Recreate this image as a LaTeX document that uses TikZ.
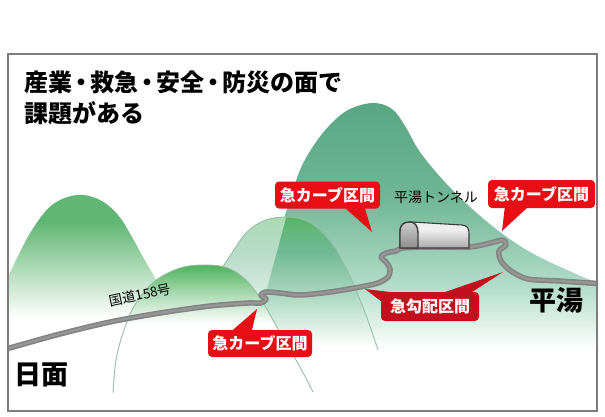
\documentclass[tikz,border=0pt]{standalone}
\usepackage{fontspec}
\newfontfamily\jp{Noto Sans CJK JP}
\usetikzlibrary{calc}

% palette
\definecolor{framegray}{RGB}{125,125,125}
\definecolor{roadgray}{RGB}{132,132,132}
\definecolor{roadlight}{RGB}{150,150,150}
\definecolor{calloutred}{RGB}{232,14,22}
\definecolor{calloutdark}{RGB}{196,16,30}
\definecolor{ridgeline}{RGB}{150,192,165}
\definecolor{tealA}{RGB}{88,166,132}
\definecolor{tealB}{RGB}{112,182,150}
\definecolor{tealC}{RGB}{178,221,202}
\definecolor{leafA}{RGB}{96,182,116}
\definecolor{leafB}{RGB}{165,214,175}
\definecolor{frontA}{RGB}{78,178,92}
\definecolor{frontB}{RGB}{160,214,168}
\definecolor{tallA}{RGB}{88,182,102}
\definecolor{tallB}{RGB}{112,184,148}
\definecolor{tallC}{RGB}{180,220,200}
\definecolor{tunnelA}{RGB}{238,238,238}
\definecolor{tunnelB}{RGB}{170,170,170}
\definecolor{portalA}{RGB}{205,205,205}
\definecolor{portalB}{RGB}{140,140,140}
\definecolor{tunneledge}{RGB}{60,60,60}

% vertical shadings: the path's box spans 25bp (bottom) to 75bp (top)
\pgfdeclareverticalshading{bigmount}{100bp}{color(0bp)=(white); color(28bp)=(white); color(40bp)=(tealC); color(57bp)=(tealB); color(75bp)=(tealA); color(100bp)=(tealA)}
\pgfdeclareverticalshading{leftmount}{100bp}{color(0bp)=(white); color(34bp)=(white); color(52bp)=(leafB); color(66bp)=(leafA); color(100bp)=(leafA)}
\pgfdeclareverticalshading{frontmount}{100bp}{color(0bp)=(white); color(52bp)=(white); color(65bp)=(frontB); color(75bp)=(frontA); color(100bp)=(frontA)}
\pgfdeclareverticalshading{tallmount}{100bp}{color(0bp)=(white); color(33bp)=(white); color(48bp)=(tallC); color(64bp)=(tallB); color(75bp)=(tallA); color(100bp)=(tallA)}
\pgfdeclareverticalshading{tunnelbody}{100bp}{color(0bp)=(tunnelB); color(25bp)=(tunnelB); color(60bp)=(tunnelA); color(75bp)=(tunnelA); color(100bp)=(tunnelA)}
\pgfdeclareverticalshading{tunnelface}{100bp}{color(0bp)=(portalB); color(25bp)=(portalB); color(75bp)=(portalA); color(100bp)=(portalA)}

\tikzset{
  callout/.style={rounded corners=4pt, inner sep=0pt, minimum height=27pt,
    text=white, font=\jp\bfseries\fontsize{16}{16}\selectfont},
  heading/.style={anchor=base west, inner sep=0pt, font=\jp\bfseries\fontsize{24}{24}\selectfont},
  placename/.style={inner sep=0pt, font=\jp\bfseries\fontsize{27}{27}\selectfont},
  smalllabel/.style={inner sep=0pt, font=\jp\fontsize{14}{14}\selectfont},
  road/.style={line width=5.5pt, roadgray, line cap=round, line join=round},
  roadcore/.style={line width=2.2pt, roadlight, line cap=round, line join=round},
  ridge/.style={ridgeline, line width=0.9pt}
}

\begin{document}
\begin{tikzpicture}[x=1pt, y=-1pt]
\useasboundingbox (0,0) rectangle (605,416);
\fill[white] (0,0) rectangle (605,416);

\begin{scope}
  \clip (8,54) rectangle (597,411);

  % back mountain
  \shade[shading=bigmount] plot[smooth, tension=0.6] coordinates {
    (268,365) (272,300) (280,235) (290,200) (300,170) (312,148) (328,127)
    (348,110) (373,103) (392,109) (405,126) (420,152) (443,180) (470,207)
    (500,232) (530,252) (565,269) (600,283) (640,290)} -- (640,365) -- cycle;

  % left mountain
  \shade[shading=leftmount] plot[smooth, tension=0.6] coordinates {
    (-30,345) (-5,300) (3,288) (15,262) (32,230) (52,205) (77,195) (100,200)
    (118,215) (132,237) (143,257) (157,282) (168,310) (178,345)} -- cycle;

  % middle mountain with its pale western face
  \def\tallpath{plot[smooth, tension=0.6] coordinates {
    (196,372) (200,330) (207,300) (217,277) (230,256) (247,232) (266,220)
    (287,217) (305,220) (320,230) (333,245) (343,262) (353,283) (366,315) (378,350)}}
  \shade[shading=tallmount] \tallpath -- cycle;
  \begin{scope}
    \clip \tallpath -- cycle;
    \fill[white, opacity=0.5] (287,214) -- (266,292) -- (255,380) -- (150,380) -- (150,200) -- (287,200) -- cycle;
  \end{scope}
  \draw[ridge] \tallpath;

  % front mountain
  \def\frontpath{plot[smooth, tension=0.6] coordinates {
    (113,393) (116,360) (124,330) (136,303) (155,281) (180,268) (205,265)
    (228,268) (246,280) (260,298) (273,320) (286,343) (300,367) (313,392)}}
  \shade[shading=frontmount] \frontpath -- cycle;
  \draw[ridge] \frontpath;

  % national road 158 with its hairpins
  \def\roadpath{plot[smooth, tension=0.5] coordinates {
    (2,350) (13,347) (60,334) (110,322) (160,313) (210,306) (248,303)
    (261,303) (266,299) (261,295) (266,292) (280,293) (300,295) (330,292)
    (360,287) (378,283) (388,277) (390,269) (386,262) (381,257) (386,253)
    (396,251) (403,248) (430,247) (470,247) (494,242) (503,240) (506,245)
    (499,251) (501,261) (511,271) (528,279) (560,281) (605,284)}}
  \draw[road] \roadpath;
  \draw[roadcore] \roadpath;

  % tunnel
  \shade[shading=tunnelbody, draw=tunneledge, line width=1.1pt]
    (400,248) -- (400,232) .. controls (400,224) and (404,222) .. (412,222)
    -- (462,225) .. controls (468,225.5) and (469,229) .. (469,234) -- (469,248) -- cycle;
  \shade[shading=tunnelface, draw=tunneledge, line width=1.4pt]
    (400,248) -- (400,232) .. controls (400,224) and (404,222) .. (410,222)
    .. controls (415,222) and (418,226) .. (418,233) -- (418,248) -- cycle;
\end{scope}

% headline
\node[heading] (title1) at (24,91)
  {産業\kern-3pt・\kern-3pt救急\kern-3pt・\kern-3pt安全\kern-3pt・\kern-3pt防災の面で};
\node[heading] (title2) at (24,122) {課題がある};

% place names
\node[placename, anchor=west] (himo) at (14,375) {日面};
\node[placename] (hirayu) at (556,300) {平湯};
\node[smalllabel] (tunnelname) at (436,197) {平湯トンネル};
\node[smalllabel, font=\jp\fontsize{13.5}{13.5}\selectfont, rotate=12] (route) at (140,295) {国道158号};

% callouts
\node[callout, fill=calloutred, minimum width=105pt] (c1) at (327.5,195) {急カーブ区間};
\coordinate (t1) at (372,232);
\fill[calloutred] ([xshift=70pt, yshift=1pt]c1.south west) -- (t1) -- ([xshift=90pt, yshift=1pt]c1.south west) -- cycle;

\node[callout, fill=calloutred, minimum width=107pt, minimum height=28pt] (c2) at (541.5,194) {急カーブ区間};
\coordinate (t2) at (502,231);
\fill[calloutred] ([xshift=17pt, yshift=1pt]c2.south west) -- (t2) -- ([xshift=40pt, yshift=1pt]c2.south west) -- cycle;

\node[callout, fill=calloutred, minimum width=104pt] (c3) at (260,343.5) {急カーブ区間};
\coordinate (t3) at (257,309);
\fill[calloutred] ([xshift=24pt, yshift=-1pt]c3.north west) -- (t3) -- ([xshift=44pt, yshift=-1pt]c3.north west) -- cycle;

\node[callout, fill=calloutdark, minimum width=98pt, minimum height=29pt] (c4) at (430,306.5) {急勾配区間};
\coordinate (t4a) at (365,289);
\coordinate (t4b) at (503,272);
\fill[calloutdark] ([xshift=1pt, yshift=-10pt]c4.north west) -- (t4a) -- ([xshift=16pt, yshift=-1pt]c4.north west) -- cycle;
\fill[calloutdark] ([xshift=62pt, yshift=-1pt]c4.north west) -- (t4b) -- ([xshift=90pt, yshift=-1pt]c4.north west) -- cycle;

% frame
\draw[framegray, line width=2.2pt] (8,54) rectangle (597,411);
\end{tikzpicture}
\end{document}
